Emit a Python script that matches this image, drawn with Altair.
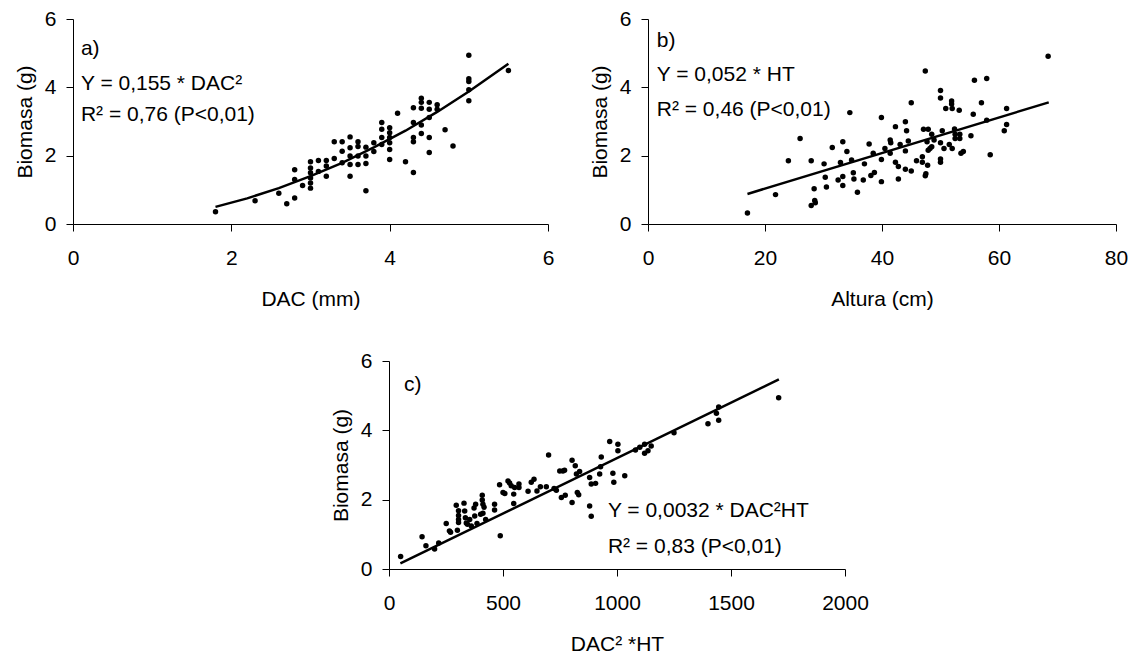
import altair as alt
import pandas as pd

FONT = "Liberation Sans"
FS = 21

# ---------------- Panel a: Biomasa vs DAC ----------------
a_x = [1.8, 2.3, 2.6, 2.7, 2.8, 2.8, 2.8, 2.9,
       3.0, 3.0, 3.0, 3.0, 3.0, 3.0,
       3.1, 3.1, 3.2, 3.2, 3.2,
       3.3, 3.3, 3.4, 3.4, 3.4,
       3.5, 3.5, 3.5, 3.5, 3.5,
       3.6, 3.6, 3.6, 3.6,
       3.7, 3.7, 3.7, 3.7,
       3.8, 3.8,
       3.9, 3.9, 3.9, 3.9,
       4.0, 4.0, 4.0, 4.0, 4.0, 4.0,
       4.1, 4.2,
       4.3, 4.3, 4.3, 4.3, 4.3,
       4.4, 4.4, 4.4, 4.4, 4.4,
       4.5, 4.5, 4.5, 4.5, 4.5,
       4.6, 4.6, 4.7, 4.8,
       5.0, 5.0, 5.0, 5.0, 5.0, 5.5]
a_y = [0.36, 0.68, 0.90, 0.59, 0.76, 1.59, 1.30, 1.13,
       1.82, 1.64, 1.50, 1.35, 1.20, 1.05,
       1.86, 1.54, 1.86, 1.70, 1.40,
       2.41, 1.92, 2.41, 2.13, 1.79,
       2.55, 2.23, 1.99, 1.74, 1.40,
       2.41, 2.27, 1.99, 1.74,
       2.25, 1.99, 1.77, 0.97,
       2.38, 2.12,
       2.97, 2.77, 2.53, 2.33,
       2.82, 2.67, 2.53, 2.38, 2.18, 1.89,
       3.24, 1.82,
       3.40, 2.97, 2.53, 2.41, 1.51,
       3.68, 3.56, 3.39, 2.90, 2.65,
       3.56, 3.36, 3.12, 2.53, 2.09,
       3.49, 3.36, 2.76, 2.28,
       4.94, 4.25, 4.17, 3.93, 3.61, 4.49]
fit_a_x = [1.8, 2.2, 2.6, 3.0, 3.4, 3.8, 4.2, 4.6, 5.0, 5.5]
fit_a_y = [0.50, 0.75, 1.05, 1.40, 1.79, 2.24, 2.73, 3.28, 3.88, 4.69]
txt_a = ["a)", "Y = 0,155 * DAC\u00b2", "R\u00b2 = 0,76 (P<0,01)"]
txt_a_x = [0.1, 0.1, 0.1]
txt_a_y = [5.12, 4.09, 3.20]

# ---------------- Panel b: Biomasa vs Altura ----------------
b_x = [17.0, 21.8, 24.0, 26.0, 27.9, 27.9, 28.4, 28.5, 28.6, 30.1, 30.3, 30.5, 31.5, 32.5,
       32.9, 33.3, 33.3, 33.3, 34.0, 34.5, 34.8, 35.1, 35.2, 35.8, 36.8, 37.0, 37.8, 38.1,
       38.5, 38.7, 39.9, 39.9, 39.9, 40.5, 41.4, 41.5, 41.4, 42.3, 42.3, 42.8, 42.8, 43.1,
       44.0, 44.2, 44.0, 44.0, 44.5, 45.0, 45.0, 45.9, 46.9, 46.9, 47.1, 47.4, 47.4, 47.5,
       47.7, 47.9, 47.8, 47.9, 48.2, 48.5, 48.5, 48.9, 50.0, 50.0, 50.0, 50.0, 50.0, 50.3,
       50.6, 50.9, 51.5, 51.9, 51.9, 52.0, 52.0, 52.4, 52.5, 52.5, 53.2, 53.3, 53.3, 53.5,
       53.9, 55.2, 55.6, 55.8, 57.0, 57.9, 57.9, 58.5, 60.9, 61.3, 61.3, 68.4]
b_y = [0.32, 0.86, 1.85, 2.50, 1.85, 0.54, 1.03, 0.69, 0.62, 1.76, 1.37, 1.08, 2.24, 1.29,
       1.80, 2.41, 1.39, 1.13, 2.12, 3.26, 1.87, 1.50, 1.32, 0.93, 1.29, 1.76, 2.34, 1.42,
       2.07, 1.51, 3.12, 1.89, 1.24, 2.21, 2.46, 2.38, 2.07, 2.85, 1.81, 1.68, 1.32, 2.33,
       2.99, 2.73, 2.14, 1.60, 2.43, 3.55, 1.55, 1.85, 1.97, 1.81, 2.77, 4.48, 1.41, 1.47,
       2.41, 2.77, 1.72, 2.16, 2.21, 2.63, 2.26, 2.46, 3.91, 3.69, 2.38, 1.90, 1.81, 2.73,
       2.21, 3.38, 2.33, 3.60, 3.51, 3.38, 2.21, 2.78, 2.63, 2.50, 3.33, 2.63, 2.50, 2.07,
       2.12, 2.58, 3.21, 4.21, 3.55, 4.26, 3.04, 2.03, 2.73, 3.38, 2.91, 4.91]
fit_b_x = [17.0, 68.5]
fit_b_y = [0.88, 3.56]
txt_b = ["b)", "Y = 0,052 * HT", "R\u00b2 = 0,46 (P<0,01)"]
txt_b_x = [1.5, 1.5, 1.5]
txt_b_y = [5.37, 4.35, 3.33]

# ---------------- Panel c: Biomasa vs DAC2*HT ----------------
c_x = [51, 145, 162, 200, 218, 251, 265, 270, 295, 300, 305, 305, 305, 305, 329, 332, 335,
       339, 344, 354, 361, 373, 376, 380, 386, 402, 409, 409, 412, 417, 412, 424, 463, 463,
       488, 485, 500, 508, 522, 529, 536, 547, 547, 551, 570, 570, 610, 624, 636, 649, 664,
       690, 700, 724, 734, 749, 763, 756, 773, 770, 803, 803, 817, 822, 826, 832, 836, 880,
       880, 887, 887, 906, 931, 928, 924, 968, 982, 986, 1004, 1004, 1034, 1081, 1100, 1121,
       1121, 1136, 1150, 1250, 1399, 1436, 1446, 1446, 1709]
c_y = [0.36, 0.93, 0.67, 0.58, 0.75, 1.31, 1.10, 1.06, 1.84, 1.12, 1.68, 1.54, 1.43, 1.34,
       1.90, 1.67, 1.48, 1.33, 1.29, 1.43, 1.24, 1.76, 1.53, 1.87, 1.31, 1.58, 2.13, 1.99,
       1.87, 1.78, 1.61, 1.43, 1.87, 1.70, 0.96, 2.43, 2.21, 2.18, 2.54, 2.48, 2.40, 2.16,
       1.89, 2.35, 2.45, 2.35, 2.24, 2.50, 2.59, 2.25, 2.37, 2.37, 3.29, 2.32, 2.27, 2.83,
       2.83, 2.06, 2.13, 2.85, 3.14, 1.92, 2.98, 2.74, 2.21, 2.14, 2.81, 2.64, 1.82, 1.52,
       2.45, 2.47, 3.23, 2.95, 2.74, 3.68, 2.76, 2.50, 3.60, 3.41, 2.69, 3.43, 3.51, 3.60,
       3.34, 3.41, 3.55, 3.93, 4.19, 4.49, 4.67, 4.29, 4.94]
fit_c_x = [50, 1710]
fit_c_y = [0.16, 5.47]
txt_c = ["c)", "Y = 0,0032 * DAC\u00b2HT", "R\u00b2 = 0,83 (P<0,01)"]
txt_c_x = [66, 960, 960]
txt_c_y = [5.32, 1.68, 0.64]


def panel(px, py, fx, fy, tx, ty, tt, xdom, xvals, xtitle, w, h):
    pts = pd.DataFrame({"x": px, "y": py})
    fit = pd.DataFrame({"x": fx, "y": fy})
    txt = pd.DataFrame({"x": tx, "y": ty, "t": tt})
    xs = alt.Scale(domain=xdom, nice=False, zero=False)
    ys = alt.Scale(domain=[0, 6], nice=False)
    xax = alt.Axis(values=xvals, title=xtitle, format="d", labelPadding=16,
                   titlePadding=20, labelFlush=False)
    yax = alt.Axis(values=[0, 2, 4, 6], title="Biomasa (g)", format="d",
                   labelPadding=10, titlePadding=9, labelFlush=False)
    p = alt.Chart(pts).mark_circle(size=30, color="black", opacity=1).encode(
        x=alt.X("x:Q", scale=xs, axis=xax),
        y=alt.Y("y:Q", scale=ys, axis=yax),
    )
    l = alt.Chart(fit).mark_line(color="black", strokeWidth=2.5).encode(
        x=alt.X("x:Q", scale=xs), y=alt.Y("y:Q", scale=ys)
    )
    t = alt.Chart(txt).mark_text(align="left", baseline="middle", font=FONT,
                                 fontSize=FS, color="black").encode(
        x=alt.X("x:Q", scale=xs), y=alt.Y("y:Q", scale=ys), text="t:N"
    )
    return alt.layer(p, l, t).properties(width=w, height=h)


pa = panel(a_x, a_y, fit_a_x, fit_a_y, txt_a_x, txt_a_y, txt_a,
           [0, 6], [0, 2, 4, 6], "DAC (mm)", 475, 205)
pb = panel(b_x, b_y, fit_b_x, fit_b_y, txt_b_x, txt_b_y, txt_b,
           [0, 80], [0, 20, 40, 60, 80], "Altura (cm)", 468, 205)
pc = panel(c_x, c_y, fit_c_x, fit_c_y, txt_c_x, txt_c_y, txt_c,
           [0, 2000], [0, 500, 1000, 1500, 2000], "DAC\u00b2 *HT", 456, 208)

spacer = alt.Chart(pd.DataFrame({"v": [0]})).mark_point(opacity=0).encode(
    x=alt.X("v:Q", axis=None), y=alt.Y("v:Q", axis=None)
).properties(width=257, height=10)

top = alt.hconcat(pa, pb, spacing=35)
bottom = alt.hconcat(spacer, pc, spacing=0)

chart = alt.vconcat(top, bottom, spacing=41).properties(
    padding={"left": 6, "top": 0, "right": 0, "bottom": 0}
).configure_view(strokeWidth=0).configure_axis(
    domainColor="black", tickColor="black", labelColor="black", titleColor="black",
    labelFont=FONT, titleFont=FONT, labelFontSize=FS, titleFontSize=FS,
    titleFontWeight="normal", grid=False, tickSize=7, domainWidth=1, tickWidth=1
)

chart.save("out.html", embed_options={"renderer": "svg", "actions": False})
